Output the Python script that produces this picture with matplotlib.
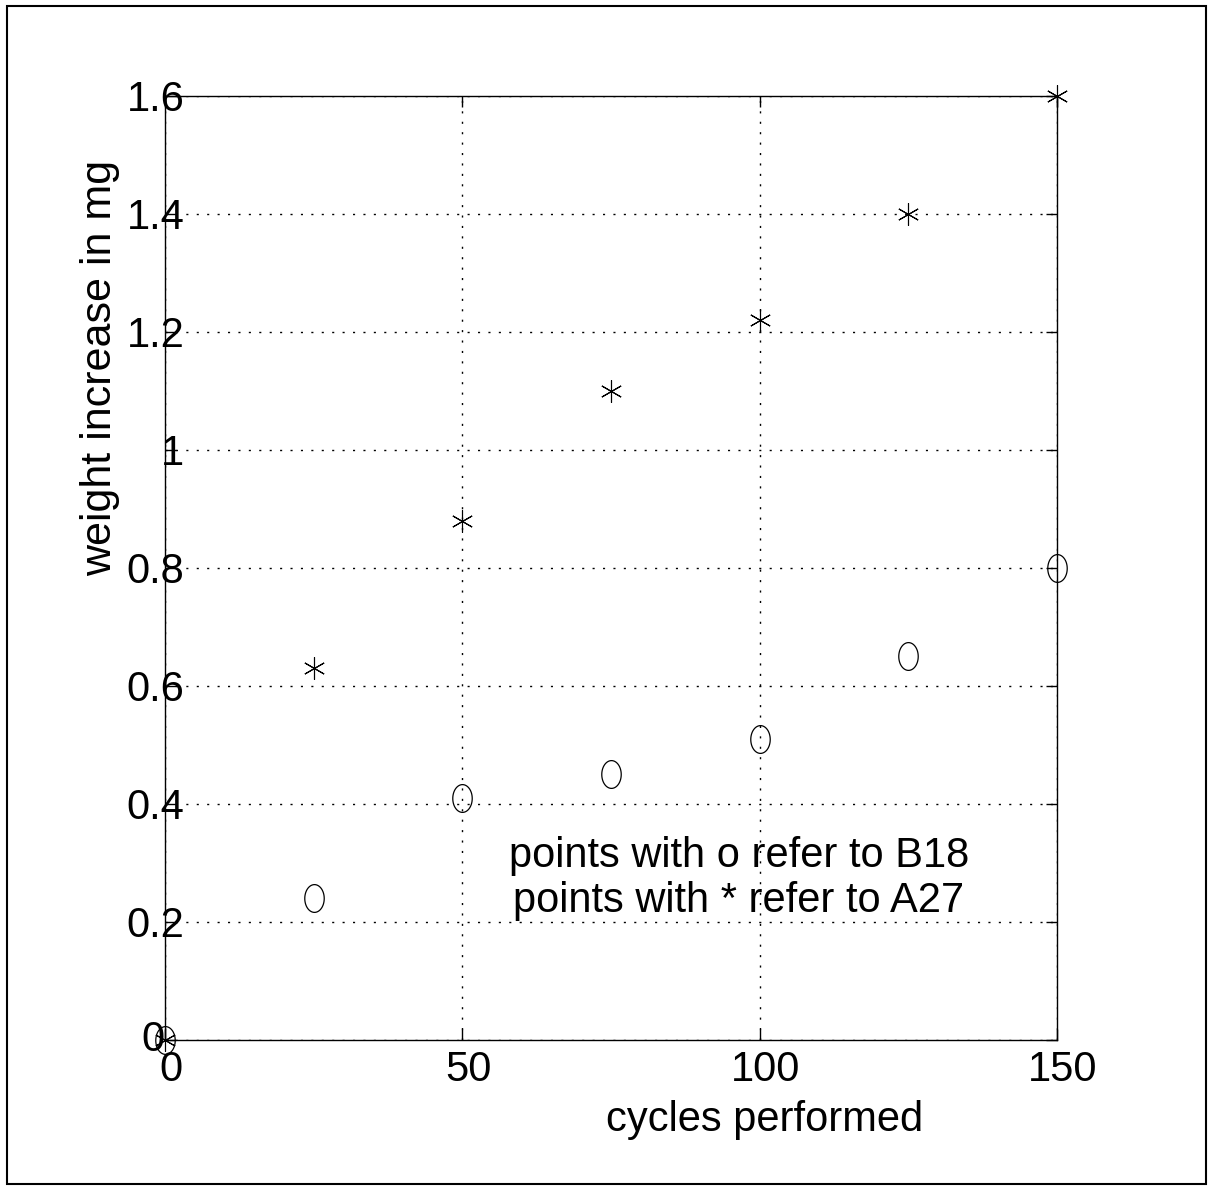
import matplotlib

matplotlib.use("Agg")
import matplotlib.pyplot as plt
import matplotlib.transforms as mtransforms
import numpy as np
from matplotlib.patches import Rectangle
from matplotlib.path import Path

plt.rcParams["font.family"] = ["Liberation Sans", "DejaVu Sans"]

cycles = [0, 25, 50, 75, 100, 125, 150]
b18_weight = [0.0, 0.24, 0.41, 0.45, 0.51, 0.65, 0.80]
a27_weight = [0.0, 0.63, 0.88, 1.10, 1.22, 1.40, 1.60]
x_ticks = [0, 50, 100, 150]
y_ticks = [0, 0.2, 0.4, 0.6, 0.8, 1.0, 1.2, 1.4, 1.6]
y_tick_labels = ["0", "0.2", "0.4", "0.6", "0.8", "1", "1.2", "1.4", "1.6"]

# slightly tall ellipse, like the scanned "o" marks
t = np.linspace(0, 2 * np.pi, 60)
oval = Path(np.column_stack([0.7 * np.cos(t), np.sin(t)]), closed=True)

fig = plt.figure(figsize=(12.09, 11.86), dpi=100)
ax = fig.add_axes([0.1365, 0.1231, 0.7378, 0.7960])

ax.plot(cycles, b18_weight, linestyle="none", marker=oval, markersize=20,
        markerfacecolor="none", markeredgecolor="black", markeredgewidth=0.9, clip_on=False)
ax.plot(cycles, a27_weight, linestyle="none", marker=(6, 2, 0), markersize=16,
        markeredgecolor="black", markeredgewidth=0.8, clip_on=False)

ax.set_xlim(0, 150)
ax.set_ylim(0, 1.6)
ax.set_xticks(x_ticks)
ax.set_yticks(y_ticks)
ax.set_yticklabels(y_tick_labels)
ax.grid(True, color="black", linestyle=(0, (1.5, 6)), linewidth=1.0)
for spine in ax.spines.values():
    spine.set_linewidth(1.0)
ax.tick_params(direction="in", length=8, width=1, labelsize=30, top=True, right=True)
ax.tick_params(axis="y", pad=-14)
ax.tick_params(axis="x", pad=7)

# the scanned labels sit a little off their ticks
for lab in ax.get_xticklabels():
    lab.set_transform(lab.get_transform() + mtransforms.ScaledTranslation(6 / 100, 0, fig.dpi_scale_trans))
zero_lab = ax.get_yticklabels()[0]
zero_lab.set_transform(zero_lab.get_transform() + mtransforms.ScaledTranslation(-20 / 100, 5 / 100, fig.dpi_scale_trans))

fig.text(765 / 1209, 1 - 1131 / 1186, "cycles performed", fontsize=30, ha="center", va="baseline")
fig.text(100 / 1209, 1 - 368 / 1186, "weight increase in mg", rotation=90,
         fontsize=31, ha="center", va="center")

ax.text(96.5, 0.217, "points with o refer to B18\npoints with * refer to A27",
        fontsize=30, ha="center", va="baseline", multialignment="center", linespacing=1.15)

fig.patches.append(Rectangle((7 / 1209, 2 / 1186), 1199 / 1209, 1178 / 1186,
                             transform=fig.transFigure, fill=False,
                             edgecolor="black", linewidth=1.5))

fig.savefig("out.png")
